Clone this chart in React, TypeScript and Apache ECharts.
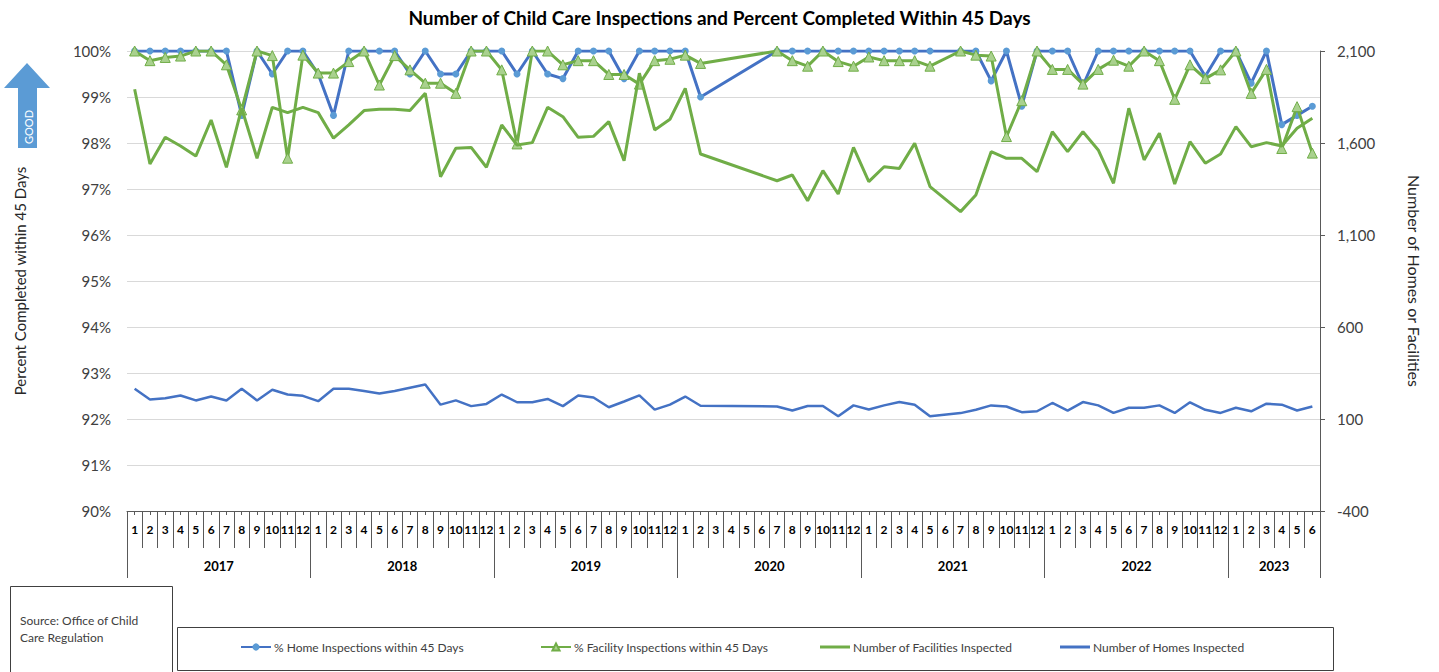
import React, { useEffect, useRef } from "react";
import * as echarts from "echarts";

const years = ["2017", "2018", "2019", "2020", "2021", "2022", "2023"];
const monthsPerYear = [12, 12, 12, 12, 12, 12, 6];

// % Home Inspections within 45 Days
const homePct = [
  100, 100, 100, 100, 100, 100, 100, 98.6, 100, 99.5, 100, 100,
  99.5, 98.6, 100, 100, 100, 100, 99.5, 100, 99.5, 99.5, 100, 100,
  100, 99.5, 100, 99.5, 99.4, 100, 100, 100, 99.4, 100, 100, 100,
  100, 99.0, null, null, null, null, 100, 100, 100, 100, 100, 100,
  100, 100, 100, 100, 100, null, 100, 100, 99.35, 100, 98.8, 100,
  100, 100, 99.25, 100, 100, 100, 100, 100, 100, 100, 99.45, 100,
  100, 99.3, 100, 98.4, 98.6, 98.8,
];

// % Facility Inspections within 45 Days
const facilityPct = [
  100, 99.79, 99.86, 99.89, 100, 100, 99.7, 98.72, 100, 99.9, 97.67, 99.91,
  99.52, 99.52, 99.77, 100, 99.26, 99.9, 99.59, 99.3, 99.3, 99.08, 100, 100,
  99.59, 97.98, 100, 100, 99.7, 99.79, 99.79, 99.49, 99.49, 99.28, 99.79, 99.82,
  99.91, 99.73, null, null, null, null, 100, 99.79, 99.67, 100, 99.77, 99.67,
  99.87, 99.79, 99.79, 99.79, 99.67, null, 100, 99.91, 99.89, 98.14, 98.92, 100,
  99.6, 99.6, 99.28, 99.6, 99.8, 99.67, 100, 99.79, 98.95, 99.7, 99.4, 99.59,
  100, 99.08, 99.6, 97.88, 98.79, 97.78,
];

// Number of Facilities Inspected
const facilitiesInspected = [
  1892, 1486, 1631, 1584, 1529, 1725, 1468, 1789, 1517, 1794, 1765, 1794,
  1765, 1626, 1698, 1776, 1783, 1783, 1776, 1870, 1417, 1571, 1576, 1468,
  1698, 1589, 1602, 1794, 1743, 1631, 1636, 1716, 1504, 1979, 1671, 1729,
  1897, 1540, null, null, null, null, 1395, 1426, 1286, 1450, 1323, 1576,
  1390, 1471, 1462, 1598, 1363, null, 1227, 1317, 1553, 1517, 1517, 1444,
  1661, 1553, 1661, 1562, 1381, 1789, 1508, 1653, 1377, 1607, 1490, 1540,
  1689, 1580, 1602, 1584, 1680, 1734,
];

// Number of Homes Inspected
const homesInspected = [
  264, 206, 213, 228, 201, 222, 201, 264, 201, 259, 233, 226,
  197, 264, 264, 252, 239, 252, 270, 288, 178, 201, 170, 182,
  233, 191, 191, 209, 170, 228, 217, 164, 195, 228, 151, 178,
  222, 172, null, null, null, null, 168, 146, 171, 171, 115, 174,
  152, 174, 192, 178, 115, null, 132, 150, 174, 168, 137, 142,
  187, 146, 192, 174, 133, 161, 161, 174, 133, 191, 150, 133,
  161, 142, 183, 178, 146, 168,
];

const seriesNames = [
  "% Home Inspections within 45 Days",
  "% Facility Inspections within 45 Days",
  "Number of Facilities Inspected",
  "Number of Homes Inspected",
];

const FONT = "Lato, 'Open Sans', sans-serif";

export default function App() {
  const ref = useRef<HTMLDivElement>(null);

  useEffect(() => {
    if (!ref.current) return;
    const chart = echarts.init(ref.current, null, { renderer: "svg" });

    const monthCats: string[] = [];
    years.forEach((y, yi) => {
      for (let m = 1; m <= monthsPerYear[yi]; m++) monthCats.push(`${y}-${m}`);
    });
    const total = monthCats.length;

    const yearCats: string[] = [];
    for (let k = 0; k <= total * 2; k++) yearCats.push(`_${k}`);
    const boundaries = new Set<number>();
    let start = 0;
    years.forEach((y, yi) => {
      boundaries.add(start * 2);
      yearCats[start * 2 + monthsPerYear[yi]] = y;
      start += monthsPerYear[yi];
    });
    boundaries.add(start * 2);

    const axisColor = "#595959";
    const legendLeft = [240, 540, 820, 1060];
    const legendLineOnly = [false, false, true, true];

    const option: any = {
      animation: false,
      backgroundColor: "#fff",
      textStyle: { fontFamily: FONT },
      title: {
        text: "Number of Child Care Inspections and Percent Completed Within 45 Days",
        left: "center",
        top: 3,
        textStyle: { fontSize: 19, fontWeight: "bold", color: "#000", fontFamily: FONT },
      },
      grid: {
        left: 127,
        right: 119,
        top: 51,
        bottom: 161,
        containLabel: false,
        outerBoundsMode: "none",
      },
      legend: seriesNames.map((n, i) => ({
        data: legendLineOnly[i] ? [{ name: n, icon: "rect" }] : [n],
        left: legendLeft[i],
        top: 641,
        padding: 0,
        itemWidth: 30,
        itemHeight: legendLineOnly[i] ? 3 : 9,
        itemGap: 4,
        textStyle: { fontSize: 12, color: "#404040", fontFamily: FONT, padding: [0, 0, 0, -2] },
      })),
      xAxis: [
        {
          type: "category",
          data: monthCats,
          position: "bottom",
          boundaryGap: true,
          axisLine: { show: true, onZero: false, lineStyle: { color: axisColor, width: 1 } },
          axisTick: { show: true, interval: 0, length: 37, lineStyle: { color: axisColor } },
          axisLabel: {
            interval: 0,
            margin: 12,
            fontSize: 12,
            fontWeight: "bold",
            color: "#000",
            fontFamily: FONT,
            formatter: (v: string) => v.split("-")[1],
          },
          splitLine: { show: false },
        },
        {
          type: "category",
          data: yearCats,
          position: "bottom",
          boundaryGap: false,
          axisLine: { show: false, onZero: false },
          axisTick: {
            show: true,
            length: 67,
            interval: (idx: number) => boundaries.has(idx),
            lineStyle: { color: axisColor },
          },
          axisLabel: {
            interval: (idx: number, v: string) => !v.startsWith("_"),
            margin: 48,
            fontSize: 13,
            fontWeight: "bold",
            color: "#000",
            fontFamily: FONT,
            formatter: (v: string) => (v.startsWith("_") ? "" : v),
          },
          splitLine: { show: false },
        },
        {
          type: "category",
          data: monthCats,
          position: "bottom",
          boundaryGap: true,
          axisLine: { show: false, onZero: false },
          axisTick: { show: true, alignWithLabel: true, interval: 0, length: 4, lineStyle: { color: axisColor } },
          axisLabel: { show: false },
          splitLine: { show: false },
        },
      ],
      yAxis: [
        {
          type: "value",
          min: 90,
          max: 100,
          interval: 1,
          position: "left",
          name: "Percent Completed within 45 Days",
          nameLocation: "middle",
          nameRotate: 90,
          nameGap: 100,
          nameTextStyle: { fontSize: 15, color: "#262626", fontFamily: FONT },
          axisLine: { show: false, onZero: false },
          axisTick: { show: false },
          axisLabel: {
            fontSize: 15,
            color: "#404040",
            margin: 16,
            fontFamily: FONT,
            formatter: (v: number) => `${v}%`,
          },
          splitLine: { show: true, lineStyle: { color: "#d9d9d9", width: 1 } },
        },
        {
          type: "value",
          min: -400,
          max: 2100,
          interval: 500,
          position: "right",
          name: "Number of Homes or Facilities",
          nameLocation: "middle",
          nameRotate: -90,
          nameGap: 86,
          nameTextStyle: { fontSize: 16, color: "#262626", fontFamily: FONT },
          axisLine: { show: true, onZero: false, lineStyle: { color: axisColor, width: 1 } },
          axisTick: { show: true, length: 5, inside: false, lineStyle: { color: axisColor } },
          axisLabel: {
            fontSize: 15,
            color: "#404040",
            margin: 17,
            fontFamily: FONT,
            formatter: (v: number) => v.toLocaleString("en-US"),
          },
          splitLine: { show: false },
        },
      ],
      series: [
        {
          name: seriesNames[0],
          type: "line",
          xAxisIndex: 0,
          yAxisIndex: 0,
          data: homePct,
          connectNulls: true,
          showAllSymbol: true,
          symbol: "circle",
          symbolSize: 7,
          itemStyle: { color: "#5b9bd5" },
          lineStyle: { color: "#4472c4", width: 3 },
          z: 3,
        },
        {
          name: seriesNames[1],
          type: "line",
          xAxisIndex: 0,
          yAxisIndex: 0,
          data: facilityPct,
          connectNulls: true,
          showAllSymbol: true,
          symbol: "triangle",
          symbolSize: 10,
          itemStyle: { color: "#a9d18e", borderColor: "#70ad47", borderWidth: 1 },
          lineStyle: { color: "#70ad47", width: 3 },
          z: 4,
        },
        {
          name: seriesNames[2],
          type: "line",
          xAxisIndex: 0,
          yAxisIndex: 1,
          data: facilitiesInspected,
          connectNulls: true,
          showSymbol: false,
          symbol: "none",
          itemStyle: { color: "#70ad47" },
          lineStyle: { color: "#70ad47", width: 3 },
          z: 5,
        },
        {
          name: seriesNames[3],
          type: "line",
          xAxisIndex: 0,
          yAxisIndex: 1,
          data: homesInspected,
          connectNulls: true,
          showSymbol: false,
          symbol: "none",
          itemStyle: { color: "#4472c4" },
          lineStyle: { color: "#4472c4", width: 2.5 },
          z: 5,
        },
      ],
      graphic: [
        {
          type: "polygon",
          shape: {
            points: [
              [27, 63],
              [50, 88],
              [37, 88],
              [37, 148],
              [18, 148],
              [18, 88],
              [4, 88],
            ],
          },
          style: { fill: "#5b9bd5" },
        },
        {
          type: "text",
          x: 28,
          y: 127,
          rotation: Math.PI / 2,
          style: {
            text: "GOOD",
            fill: "#ffffff",
            fontSize: 11,
            fontFamily: FONT,
            align: "center",
            verticalAlign: "middle",
          },
        },
        {
          type: "rect",
          shape: { x: 10.5, y: 586.5, width: 162, height: 100 },
          style: { fill: "none", stroke: "#404040", lineWidth: 1 },
        },
        {
          type: "text",
          x: 20,
          y: 612,
          style: {
            text: "Source: Office of Child\nCare Regulation",
            fill: "#404040",
            fontSize: 12,
            lineHeight: 17,
            fontFamily: FONT,
          },
        },
        {
          type: "rect",
          shape: { x: 177.5, y: 627.5, width: 1156, height: 43 },
          style: { fill: "none", stroke: "#404040", lineWidth: 1 },
          z: -1,
        },
      ],
    };

    chart.setOption(option);
    return () => chart.dispose();
  }, []);

  return (
    <div
      ref={ref}
      style={{ position: "absolute", left: 0, top: 0, width: 1439, height: 672 }}
    />
  );
}
